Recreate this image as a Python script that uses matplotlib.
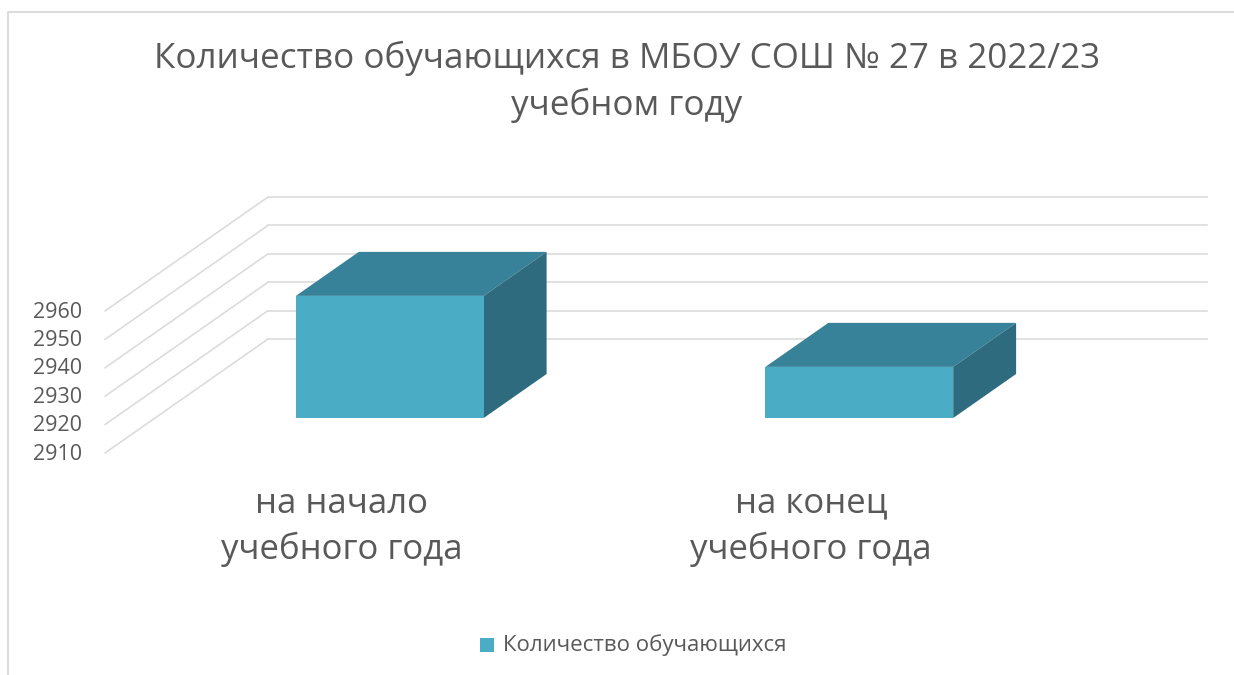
import matplotlib
matplotlib.use('Agg')
import matplotlib.pyplot as plt
from matplotlib.lines import Line2D
from matplotlib.patches import Polygon, Rectangle
from matplotlib.transforms import Affine2D, IdentityTransform

categories = ['на начало\nучебного года', 'на конец\nучебного года']
values = [2953, 2928]
y_ticks = [2910, 2920, 2930, 2940, 2950, 2960]
title = 'Количество обучающихся в МБОУ СОШ № 27 в 2022/23\nучебном году'
legend_label = 'Количество обучающихся'

W, H = 1234, 675
FRONT_DEPTH = 0.693   # bar front face, share of the floor depth
BACK_DEPTH = 0.307    # bar back face
DX, DY = -163, -114   # full floor depth in pixels
GRID = '#dcdcdc'
TEXT = '#595959'
FACE = '#4bacc6'
TOP = '#378299'
SIDE = '#2f6b7e'

plt.rcParams['font.family'] = ['Open Sans', 'DejaVu Sans']

fig = plt.figure(figsize=(W / 100, H / 100), dpi=100)

# chart frame, only top and left show in the crop
fig.add_artist(Line2D([8 / W, 8 / W, 1], [0, 1 - 12 / H, 1 - 12 / H], color=GRID, lw=1.5))

# back wall of the 3D box
ax = fig.add_axes([268 / W, 1 - 339 / H, (1207 - 268) / W, 142 / H])
ax.set_xlim(0, 2)
ax.set_ylim(y_ticks[0], y_ticks[-1])
ax.axis('off')


def shift(depth):
    return ax.transData + Affine2D().translate(DX * depth, DY * depth)


for v in y_ticks:
    ax.plot([0, 2], [v, v], color=GRID, lw=1.2, clip_on=False, zorder=1)
    ax.annotate('', xy=(0, v), xycoords='data',
                xytext=(DX, DY), textcoords='offset pixels',
                arrowprops=dict(arrowstyle='-', color=GRID, lw=1.2, shrinkA=0, shrinkB=0))
    ax.annotate(str(v), xy=(0, v), xycoords='data',
                xytext=(DX - 23, DY - 1), textcoords='offset pixels',
                ha='right', va='center', fontsize=15.5, color=TEXT)

base = y_ticks[0]
for i, (cat, val) in enumerate(zip(categories, values)):
    left, right = i + 0.3, i + 0.7
    front = shift(FRONT_DEPTH)
    dep = (DX * (BACK_DEPTH - FRONT_DEPTH), DY * (BACK_DEPTH - FRONT_DEPTH))
    # side and top are drawn in pixels from the front face corners
    tl, tr, br = front.transform([(left, val), (right, val), (right, base)])
    tr_b = (tr[0] + dep[0], tr[1] + dep[1])
    tl_b = (tl[0] + dep[0], tl[1] + dep[1])
    br_b = (br[0] + dep[0], br[1] + dep[1])
    ax.add_patch(Polygon([tl, tr, tr_b, tl_b], closed=True, fc=TOP, ec='none',
                         transform=IdentityTransform(), clip_on=False, zorder=3))
    ax.add_patch(Polygon([tr, br, br_b, tr_b], closed=True, fc=SIDE, ec='none',
                         transform=IdentityTransform(), clip_on=False, zorder=3))
    ax.add_patch(Rectangle((left, base), 0.4, val - base, fc=FACE, ec='none',
                           transform=front, clip_on=False, zorder=4))
    cx = shift(1).transform((i + 0.5, base))[0]
    fig.text((cx + 2) / W, 1 - 527 / H, cat, ha='center', va='center',
             fontsize=25, color=TEXT, linespacing=1.4)

fig.suptitle(title, x=627 / W, y=1 - 82 / H, va='center', fontsize=25.2, color=TEXT, linespacing=1.45)

fig.add_artist(Rectangle((480 / W, 1 - 652 / H), 14 / W, 14 / H, fc=FACE, ec='none',
                         transform=fig.transFigure))
fig.text(503 / W, 1 - 645 / H, legend_label, ha='left', va='center', fontsize=16, color=TEXT)

fig.savefig('out.png', dpi=100)
